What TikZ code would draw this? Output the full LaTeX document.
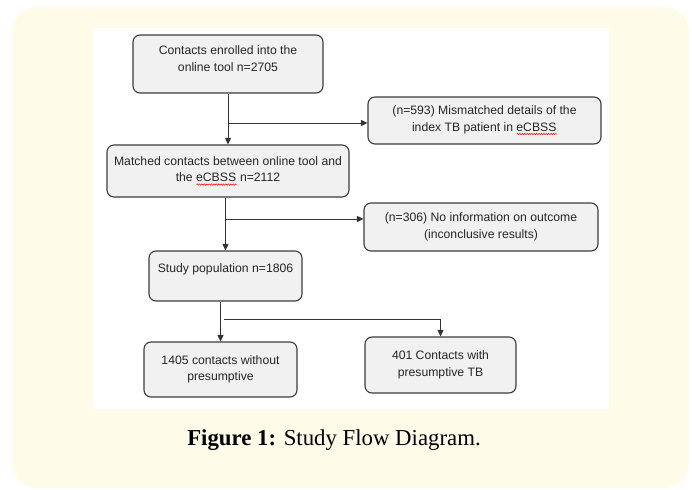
\documentclass[tikz,border=0pt]{standalone}
\usepackage{fontspec}
\setmainfont{Liberation Sans}
\newfontfamily\capfont{Liberation Serif}
\usepackage{tikz}
\usetikzlibrary{positioning,calc,arrows.meta,decorations.pathmorphing}
\definecolor{panel}{HTML}{FFFBE9}
\definecolor{boxfill}{HTML}{F1F1F1}
\definecolor{boxline}{HTML}{3C3C3C}
\tikzstyle{box} = [draw=boxline,fill=boxfill,line width=1.1pt,rounded corners=7pt,align=center,inner sep=0pt,text=black!85,font=\fontsize{12.2}{16.6}\selectfont]
\tikzstyle{arrow} = [line width=0.9pt,draw=black!80,-{Triangle[length=6.5pt,width=6pt]}]
\newcommand\redwave[1]{\setbox0=\hbox{#1}\rlap{#1}\tikz[baseline=0pt,x=1pt,y=1pt]\draw[red,line width=0.5pt,sharp corners,decorate,decoration={snake,amplitude=0.7pt,segment length=2.4pt}] (0,-2.6) -- (\the\wd0,-2.6);}

\begin{document}
\begin{tikzpicture}[x=1pt,y=-1pt]
    \useasboundingbox (0,0) rectangle (692,489);
    \fill[panel,rounded corners=25pt] (12,7) rectangle (689,488);
    \fill[white] (93,28) rectangle (609,409);
   	\node[box,minimum width=190pt,minimum height=58pt](s_1) at (228,64){Contacts enrolled into the\\online tool n=2705\\[-6pt]\mbox{}};
   	\node[box,minimum width=242pt,minimum height=52pt](s_2) at (228,171){Matched contacts between online tool and\\the \redwave{eCBSS} n=2112};
   	\node[box,minimum width=233pt,minimum height=47pt](s_3) at (484.5,120.5){(n=593) Mismatched details of the\\index TB patient in \redwave{eCBSS}};
   	\node[box,minimum width=234pt,minimum height=48pt](s_4) at (481,227){(n=306) No information on outcome\\(inconclusive results)};
   	\node[box,minimum width=153pt,minimum height=50pt](s_5) at (225.5,276){Study population n=1806\\\mbox{}};
   	\node[box,minimum width=153pt,minimum height=55pt](s_6) at (220.5,369.5){1405 contacts without\\presumptive};
   	\node[box,minimum width=151pt,minimum height=56pt](s_7) at (440.5,365){401 Contacts with\\presumptive TB};
   	\coordinate (b_1) at (228,123);
   	\coordinate (b_2) at (225.5,219);
   	\coordinate (b_3) at (224,319);
    \draw[arrow] (s_1) -- (s_2);
    \draw[arrow] (b_1) -- (b_1 -| s_3.west);
    \draw[arrow] (s_5.north |- s_2.south) -- (s_5.north);
    \draw[arrow] (b_2) -- (b_2 -| s_4.west);
    \draw[arrow] (s_6.north |- s_5.south) -- (s_6.north);
    \draw[arrow] (b_3) -| (s_7.north);
    \node (cap) at (334,440){\capfont\fontsize{22.8}{26}\selectfont\textbf{Figure 1:} Study Flow Diagram.};
\end{tikzpicture}
\end{document}
